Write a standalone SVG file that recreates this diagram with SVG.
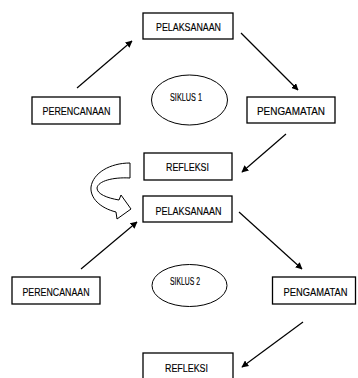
<svg xmlns="http://www.w3.org/2000/svg" width="358" height="378" viewBox="0 0 358 378">
<defs>
<style>
.box{fill:#fff;stroke:#000;stroke-width:1.3}
.ell{fill:#fff;stroke:#000;stroke-width:1}
.lbl{font-family:"Liberation Sans",Arial,sans-serif;font-size:11px;fill:#000;stroke:#000;stroke-width:0.15;text-anchor:middle}
.con{stroke:#000;stroke-width:1.2;fill:none;marker-end:url(#ah)}
</style>
<marker id="ah" viewBox="0 0 10 10" refX="9" refY="5" markerWidth="7" markerHeight="7" markerUnits="userSpaceOnUse" orient="auto">
<path d="M0,0 L10,5 L0,10 Z" fill="#000"/>
</marker>
</defs>
<rect width="358" height="378" fill="#fff"/>
<g id="connectors">
<line class="con" x1="77" y1="88" x2="132" y2="41"/>
<line class="con" x1="241" y1="33" x2="298" y2="90"/>
<line class="con" x1="286" y1="134" x2="242" y2="172"/>
<line class="con" x1="81" y1="269" x2="137" y2="222"/>
<line class="con" x1="239" y1="212" x2="302" y2="269"/>
<line class="con" x1="303" y1="322" x2="242" y2="367"/>
<path id="curved-arrow" d="M130,163 L130,178 C113,177 98,181 97,188 C97,194 107,198 119,200 L121,195 L131,209 L117,219 L116,212 C100,208 90,198 91,187 C93,173 110,163 130,163 Z" fill="#fff" stroke="#000" stroke-width="1"/>
</g>
<g id="pelaksanaan1"><rect class="box" x="143" y="13" width="90" height="26"/><text class="lbl" x="188.5" y="31" textLength="65" lengthAdjust="spacingAndGlyphs">PELAKSANAAN</text></g>
<g id="perencanaan1"><rect class="box" x="32" y="97" width="88" height="27"/><text class="lbl" x="76.5" y="115" textLength="68" lengthAdjust="spacingAndGlyphs">PERENCANAAN</text></g>
<g id="pengamatan1"><rect class="box" x="247" y="97" width="88" height="26"/><text class="lbl" x="291" y="115" textLength="68" lengthAdjust="spacingAndGlyphs">PENGAMATAN</text></g>
<g id="refleksi1"><rect class="box" x="144" y="153" width="88" height="27"/><text class="lbl" x="187.5" y="170.5" textLength="43" lengthAdjust="spacingAndGlyphs">REFLEKSI</text></g>
<g id="siklus1"><ellipse class="ell" cx="189.5" cy="100" rx="38" ry="25"/><text class="lbl" x="186" y="100.5" textLength="32" lengthAdjust="spacingAndGlyphs">SIKLUS 1</text></g>
<g id="pelaksanaan2"><rect class="box" x="143" y="196" width="89" height="26"/><text class="lbl" x="188.5" y="215" textLength="66" lengthAdjust="spacingAndGlyphs">PELAKSANAAN</text></g>
<g id="perencanaan2"><rect class="box" x="12" y="277" width="88" height="27"/><text class="lbl" x="56" y="295.5" textLength="67" lengthAdjust="spacingAndGlyphs">PERENCANAAN</text></g>
<g id="pengamatan2"><rect class="box" x="272.5" y="277" width="83" height="27"/><text class="lbl" x="315.5" y="295.5" textLength="64" lengthAdjust="spacingAndGlyphs">PENGAMATAN</text></g>
<g id="siklus2"><ellipse class="ell" cx="189.5" cy="285.5" rx="37.5" ry="21"/><text class="lbl" x="185" y="285" textLength="30" lengthAdjust="spacingAndGlyphs">SIKLUS 2</text></g>
<g id="refleksi2"><rect class="box" x="143" y="353" width="90" height="30"/><text class="lbl" x="186.5" y="372" textLength="43" lengthAdjust="spacingAndGlyphs">REFLEKSI</text></g>
</svg>
